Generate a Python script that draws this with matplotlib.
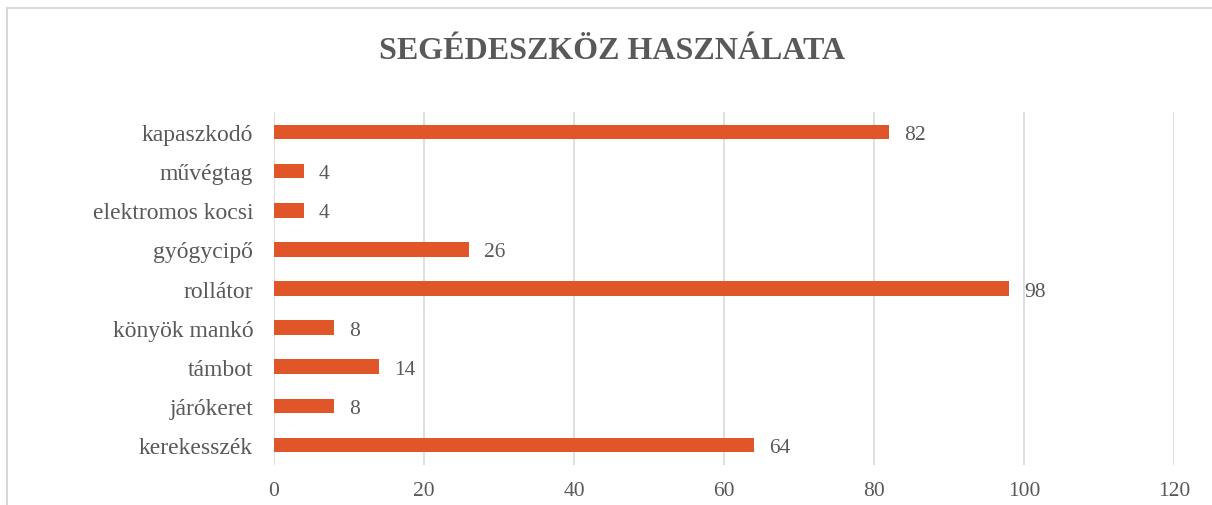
import matplotlib.pyplot as plt
from matplotlib.patches import Rectangle

categories = ['kerekesszék', 'járókeret', 'támbot', 'könyök mankó', 'rollátor',
              'gyógycipő', 'elektromos kocsi', 'művégtag', 'kapaszkodó']
values = [64, 8, 14, 8, 98, 26, 4, 4, 82]
xticks = [0, 20, 40, 60, 80, 100, 120]

plt.rcParams['font.family'] = ['Liberation Serif', 'DejaVu Serif']
grey = '#595959'

fig = plt.figure(figsize=(12.12, 5.06), dpi=100)
ax = fig.add_axes([274 / 1212, 0.080, 900 / 1212, 0.6957])

# chart frame (cut off at right and bottom in the original)
fig.patches.append(Rectangle((7 / 1212, -0.2), 1.2, 1 - 9 / 506 + 0.2,
                             transform=fig.transFigure, fill=False,
                             edgecolor='#D9D9D9', linewidth=1.5))

bars = ax.barh(range(len(categories)), values, height=0.37, color='#E15629', zorder=3)
for b, v in zip(bars, values):
    ax.text(v + 2.0, b.get_y() + b.get_height() / 2, str(v), va='center_baseline',
            ha='left', fontsize=15.5, color=grey)

ax.set_xlim(0, 120)
ax.set_ylim(-0.5, len(categories) - 0.5)
ax.set_xticks(xticks)
ax.set_yticks(range(len(categories)))
ax.set_yticklabels(categories)
ax.tick_params(axis='both', length=0, labelcolor=grey)
ax.tick_params(axis='y', pad=15, labelsize=17)
ax.tick_params(axis='x', pad=12, labelsize=15.5)
ax.grid(axis='x', color='#D9D9D9', linewidth=1.2, zorder=0)
for s in ax.spines.values():
    s.set_visible(False)

fig.text(0.505, 0.898, 'SEGÉDESZKÖZ HASZNÁLATA', ha='center', va='center',
         fontsize=23, fontweight='bold', color=grey)

fig.savefig('out.png', dpi=100)
